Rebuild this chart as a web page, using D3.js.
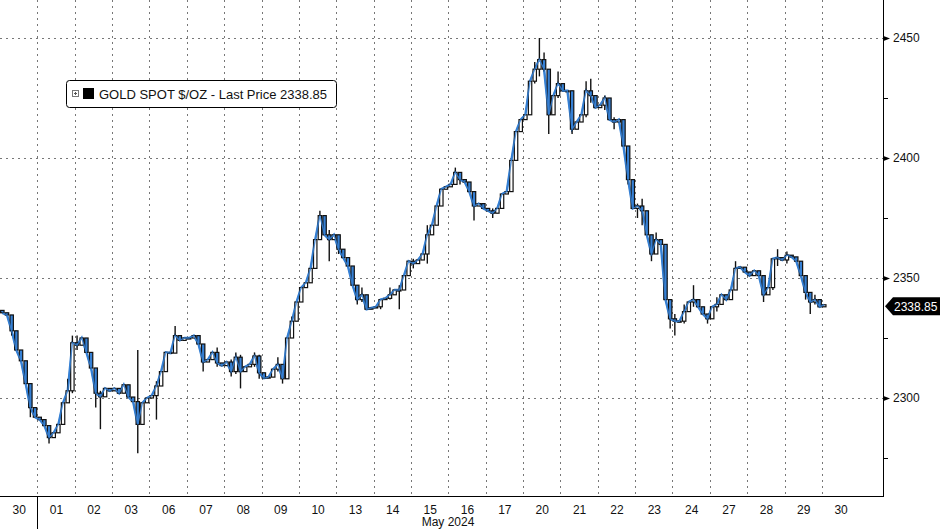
<!DOCTYPE html>
<html><head><meta charset="utf-8">
<script src="https://cdn.jsdelivr.net/npm/d3@7"></script>
<style>
html,body{margin:0;padding:0;background:#fff;}
svg{display:block;font-family:"Liberation Sans",Arial,sans-serif;}
</style></head>
<body><svg id="c" width="940" height="529"></svg>
<script>
// ---- data ----
const dayLabels = ["30","01","02","03","06","07","08","09","10","13","14","15","16","17","20","21","22","23","24","27","28","29","30"];
const monthLabel = "May 2024";
const yTicks = [2300, 2350, 2400, 2450];
const yMinorTicks = [2275, 2325, 2375, 2425];
const barsPerDay = 8;
const firstOpen = 2336.5;
const closes = [
 2335.5,2334.6,2328,2320,2315.5,2306,2296,2292,
 2291,2288.5,2283.5,2285.5,2289,2298,2303,2323,
 2322,2325,2319,2312.5,2302,2300.5,2304,2303,
 2304,2302,2305.5,2300.4,2298.5,2289,2298,2300,
 2301,2305,2311,2319,2318.7,2326,2324,2325,
 2325,2326,2322.5,2315,2316,2319,2314.6,2313.5,
 2315,2311,2317,2311,2313,2314,2317.5,2310.5,
 2308.3,2308.7,2312,2314,2308,2325,2332,2340,
 2346,2348,2354,2366,2376,2368,2366,2368,
 2362,2358.5,2355,2347,2341,2343,2337,2337.5,
 2338,2341,2341.5,2343,2345,2345,2351,2357,
 2356,2357.5,2360,2368,2372,2380,2387,2388,
 2389,2394,2391,2390,2386,2380,2381,2379,
 2378,2377,2379,2385,2386,2399,2411,2416,
 2418,2432,2437,2441,2437,2418,2426,2431,
 2428,2428,2412,2415,2418,2428,2426,2421,
 2422,2425,2416,2415,2416,2405,2391,2379,
 2380,2378,2368,2360,2366,2364,2341,2333,
 2332,2332,2336,2340,2341,2338,2335,2333,
 2338,2339,2343,2341,2345,2354,2354.5,2352.5,
 2351,2353,2351,2343,2346,2358,2358.5,2357.5,
 2359.5,2358.8,2357,2351,2344,2340,2341,2338,
 2338.85
];
// explicit wicks: [bar index, high, low]
const wicks = [
 [2,2333,2326],[6,2300,2292],[10,2288,2281],[14,2308,2299],[15,2326,2302],
 [16,2326,2320],[20,2306,2296],[21,2303,2287],[29,2320,2277],[33,2307,2291],
 [37,2330,2321],[43,2322,2311],[46,2321,2313],[49,2316,2309],[50,2319,2310],
 [51,2318,2304],[54,2319,2313],[55,2318,2308],[59,2317,2311],[60,2312,2306],
 [62,2334,2330],[68,2378,2368],[70,2370,2357],[72,2364,2360],[76,2346,2339],
 [77,2346,2340],[81,2341,2337],[83,2346,2341],[85,2347,2337],[88,2358,2354],
 [91,2372,2356],[97,2396,2389],[98,2393,2389],[101,2384,2374],[105,2379,2375],
 [114,2440,2431],[115,2450,2434],[116,2444,2436],[117,2437,2410],[119,2436,2425],
 [122,2428,2410],[125,2432,2417],[126,2433,2423],[129,2426,2420],[131,2417,2412],
 [134,2395,2389],[136,2381,2375],[137,2383,2372],[139,2367,2357],[140,2369,2360],
 [143,2341,2329],[144,2335,2326],[146,2339,2331],[148,2347,2338],[151,2335,2331],
 [153,2342,2336],[157,2357,2345],[163,2350,2340],[165,2358,2345],[166,2362,2355],
 [168,2361,2356],[172,2351,2341],[173,2344,2335],[174,2343,2339]
];
const lastPrice = 2338.85;
const legendText = "GOLD SPOT $/OZ - Last Price 2338.85";

// ---- layout ----
const svg = d3.select("#c");
const plotR = 883, plotB = 496;
const x = d3.scaleLinear().domain([0, dayLabels.length]).range([0, 859.3]);
const y = d3.scaleLinear().domain([2300, 2450]).range([398, 38]);
const blue = "#3680d4";

// gridlines
const grid = svg.append("g");
grid.selectAll("line.v").data(d3.range(1, dayLabels.length)).join("line")
  .attr("x1", d => Math.round(x(d)) + 0.5).attr("x2", d => Math.round(x(d)) + 0.5)
  .attr("y1", 0).attr("y2", plotB)
  .attr("stroke", "#777").attr("stroke-width", 1).attr("stroke-dasharray", "2,4");
grid.selectAll("line.h").data(yTicks).join("line")
  .attr("x1", 0).attr("x2", plotR)
  .attr("y1", d => Math.round(y(d)) + 0.5).attr("y2", d => Math.round(y(d)) + 0.5)
  .attr("stroke", "#777").attr("stroke-width", 1).attr("stroke-dasharray", "2,4");

// bars
const bars = closes.map((c, i) => {
  const o = i === 0 ? firstOpen : closes[i - 1];
  return { t: (i + 0.5) / barsPerDay, o, c, h: Math.max(o, c), l: Math.min(o, c) };
});
wicks.forEach(([i, h, l]) => { bars[i].h = Math.max(bars[i].h, h); bars[i].l = Math.min(bars[i].l, l); });

const bw = 3.4;
svg.append("path").datum(bars)
  .attr("d", d3.line().x(d => x(d.t)).y(d => y(d.c)))
  .attr("fill", "none").attr("stroke", blue).attr("stroke-width", 2.4);
const cg = svg.append("g");
cg.selectAll("line.w").data(bars).join("line")
  .attr("x1", d => x(d.t)).attr("x2", d => x(d.t))
  .attr("y1", d => y(d.h)).attr("y2", d => y(d.l))
  .attr("stroke", "#111").attr("stroke-width", 1.4);
cg.selectAll("rect").data(bars).join("rect")
  .attr("x", d => x(d.t) - bw / 2).attr("width", bw)
  .attr("y", d => y(Math.max(d.o, d.c)))
  .attr("height", d => Math.max(1, Math.abs(y(d.o) - y(d.c))))
  .attr("fill", d => d.c >= d.o ? "#fff" : blue)
  .attr("stroke", "#111").attr("stroke-width", 1.2);
svg.append("path").datum(bars)
  .attr("d", d3.line().x(d => x(d.t)).y(d => y(d.c)))
  .attr("fill", "none").attr("stroke", blue).attr("stroke-width", 1.4).attr("opacity", 0.85);

// right axis
const ax = svg.append("g").attr("transform", `translate(${plotR},0)`);
ax.append("line").attr("x1", 0.5).attr("x2", 0.5).attr("y1", 0).attr("y2", plotB + 0.5).attr("stroke", "#000");
const yAxis = d3.axisRight(y).tickValues(yTicks).tickSize(0).tickPadding(10).tickFormat(d3.format("d"));
const yA = ax.append("g").call(yAxis);
yA.select(".domain").remove();
yA.selectAll("text").attr("font-size", 12).attr("fill", "#111").attr("font-family", "Liberation Sans, Arial, sans-serif");
yA.selectAll(".tick").append("path").attr("d", "M0.5,-2.5L7,0L0.5,2.5Z").attr("fill", "#000");
const yMinor = d3.axisRight(y).tickValues(yMinorTicks).tickSize(5).tickFormat("");
const yM = ax.append("g").call(yMinor);
yM.select(".domain").remove();
yM.selectAll("line").attr("stroke", "#000");

// last price tag
const ly = y(lastPrice) + 1.5;
const tag = svg.append("g").attr("transform", `translate(${plotR + 2},${ly})`);
tag.append("path").attr("d", "M0,0L8,-9L57,-9L57,9L8,9Z").attr("fill", "#000");
tag.append("text").attr("x", 9).attr("y", 4.5).attr("fill", "#fff").attr("font-size", 12).text(d3.format(".2f")(lastPrice));

// bottom axis
svg.append("line").attr("x1", 0).attr("x2", plotR + 1).attr("y1", plotB + 0.5).attr("y2", plotB + 0.5).attr("stroke", "#000");
const xAxis = d3.axisBottom(x).tickValues(d3.range(dayLabels.length).map(i => i + 0.5))
  .tickSize(0).tickPadding(9).tickFormat((d, i) => dayLabels[i]);
const xA = svg.append("g").attr("transform", `translate(0,${plotB})`).call(xAxis);
xA.select(".domain").remove();
xA.selectAll("text").attr("font-size", 12).attr("fill", "#111").attr("font-family", "Liberation Sans, Arial, sans-serif");
svg.append("line").attr("x1", Math.round(x(1)) + 0.5).attr("x2", Math.round(x(1)) + 0.5)
  .attr("y1", plotB).attr("y2", 529).attr("stroke", "#000");
svg.append("text").attr("x", 448).attr("y", 526).attr("text-anchor", "middle")
  .attr("font-size", 12).attr("fill", "#111").text(monthLabel);

// legend
const lg = svg.append("g").attr("transform", "translate(66,80)");
lg.append("rect").attr("x", 0.5).attr("y", 0.5).attr("width", 270).attr("height", 27).attr("rx", 3)
  .attr("fill", "#fff").attr("stroke", "#000");
lg.append("rect").attr("x", 6.5).attr("y", 10.5).attr("width", 6).attr("height", 6).attr("fill", "none").attr("stroke", "#777");
lg.append("path").attr("d", "M8,13.5H11M9.5,12V15").attr("stroke", "#555");
lg.append("rect").attr("x", 17).attr("y", 8).attr("width", 11).attr("height", 11).attr("fill", "#000");
lg.append("text").attr("x", 33).attr("y", 19).attr("font-size", 13).attr("fill", "#111").text(legendText);
</script></body></html>
